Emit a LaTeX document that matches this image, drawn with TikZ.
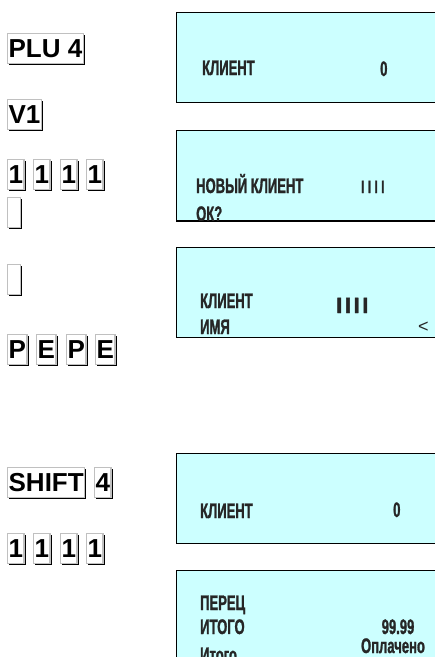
\documentclass[tikz,border=0pt]{standalone}
\usepackage{fontspec}
\setmainfont{Liberation Sans}
\newfontfamily\lcdfont[FakeStretch=0.62,FakeBold=1.2]{Liberation Sans Bold}
\newfontfamily\barfont[FakeBold=2]{Liberation Sans Bold}
\usetikzlibrary{shadows}
\definecolor{lcdblue}{RGB}{204,255,255}
\definecolor{keygray}{RGB}{192,192,192}

\begin{document}
\begin{tikzpicture}[x=1pt,y=-1pt,
	key/.style={draw=keygray, line width=1.3pt, fill=white, anchor=north west,
		inner xsep=1pt, inner ysep=0pt, minimum height=30pt,
		font=\fontsize{26}{26}\selectfont\bfseries,
		drop shadow={shadow xshift=1.6pt, shadow yshift=-1.6pt, fill=black, opacity=1}},
	lcd/.style={draw, line width=1.3pt, fill=lcdblue, anchor=north west,
		minimum width=300pt, minimum height=90pt, inner sep=0pt},
	txt/.style={anchor=base west, inner sep=0pt, text=black!85, font=\fontsize{21}{21}\lcdfont}]
%
	\useasboundingbox (0,0) rectangle (435,657);
	\clip (0,0) rectangle (435,657);
%
	% keys
	\node[key] (plu) at (7,33) {PLU 4};
	\node[key] (vone) at (7,99) {V1};
	\foreach \k/\x in {a/7,b/33,c/60,d/86}
		\node[key] (one\k) at (\x,159) {1};
	\node[key, minimum width=13pt] (blanka) at (7,197) {};
	\node[key, minimum width=13pt] (blankb) at (7,264) {};
	\foreach \k/\x/\c in {a/7/P,b/36/E,c/66/P,d/95/E}
		\node[key] (pepe\k) at (\x,334) {\c};
	\node[key] (shift) at (7,467) {SHIFT};
	\node[key] (four) at (94,467) {4};
	\foreach \k/\x in {a/7,b/33,c/60,d/86}
		\node[key] (ones\k) at (\x,533) {1};
%
	% displays
	\node[lcd] (dispa) at (176,12) {};
	\node[lcd] (dispb) at (176,130) {};
	\node[lcd] (dispc) at (176,247) {};
	\node[lcd] (dispd) at (176,453) {};
	\node[lcd] (dispe) at (176,570) {};
%
	\node[txt] (clienta) at (202,75) {КЛИЕНТ};
	\node[txt] (zeroa) at (380,76) {0};
	\node[txt] (newclient) at (196,193) {НОВЫЙ КЛИЕНТ};
	\node[txt, font=\fontsize{18}{18}\lcdfont] (codeb) at (361,193)
		{I\hspace{3.6pt}I\hspace{3.6pt}I\hspace{3.6pt}I};
	\node[txt] (okq) at (196,221) {ОК?};
	\draw[line width=1.3pt] (dispb.south west) -- (dispb.south east);
	\node[txt] (clientc) at (200,308) {КЛИЕНТ};
	\node[txt, font=\fontsize{22}{22}\barfont] (codec) at (336,313)
		{I\hspace{2.6pt}I\hspace{2.6pt}I\hspace{2.6pt}I};
	\node[txt] (name) at (200,334) {ИМЯ};
	\node[txt, font=\fontsize{18}{18}\selectfont] (cursor) at (418,332) {<};
	\node[txt] (clientd) at (200,518) {КЛИЕНТ};
	\node[txt] (zerod) at (393,517) {0};
	\node[txt] (pepper) at (200,610) {ПЕРЕЦ};
	\node[txt] (total) at (200,634) {ИТОГО};
	\node[txt] (subtotal) at (200,662) {Итого};
	\node[txt, anchor=base] (sum) at (398,634) {99.99};
	\node[txt, anchor=base] (paid) at (393,653) {Оплачено};
\end{tikzpicture}
\end{document}
